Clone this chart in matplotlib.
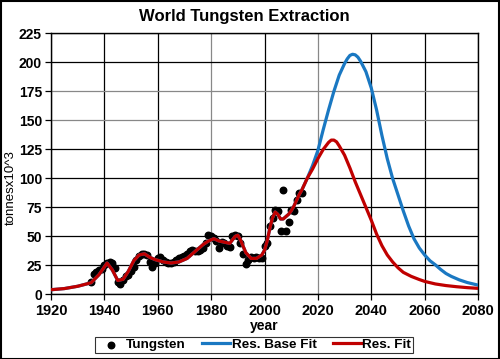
import matplotlib
matplotlib.use("Agg")
import matplotlib.pyplot as plt

plt.rcParams['font.family'] = ['Liberation Sans', 'DejaVu Sans']

# observed tungsten extraction (tonnes x10^3)
obs_year = [1935, 1936, 1937, 1938, 1939, 1940, 1941, 1942, 1943, 1944,
            1945, 1946, 1947, 1948, 1949, 1950, 1951, 1952, 1953, 1954,
            1955, 1956, 1957, 1958, 1959, 1960, 1961, 1962, 1963, 1964,
            1965, 1966, 1967, 1968, 1969, 1970, 1971, 1972, 1973, 1974,
            1975, 1976, 1977, 1978, 1979, 1980, 1981, 1982, 1983, 1984,
            1985, 1986, 1987, 1988, 1989, 1990, 1991, 1992, 1993, 1994,
            1995, 1996, 1997, 1998, 1999, 2000, 2001, 2002, 2003, 2004,
            2005, 2006, 2007, 2008, 2009, 2010, 2011, 2012, 2013, 2014]
obs_val = [11, 18, 19, 21, 22, 25, 27, 28, 27, 23,
           11, 9, 12, 16, 17, 20, 24, 30, 33, 35,
           35, 34, 28, 24, 27, 31, 32, 30, 28, 27,
           27, 28, 30, 31, 32, 33, 35, 37, 38, 37,
           37, 38, 40, 44, 51, 50, 49, 46, 40, 45,
           44, 42, 41, 50, 51, 50, 44, 35, 26, 30,
           32, 31, 32, 31, 31, 42, 44, 59, 66, 73,
           72, 55, 90, 55, 62, 73, 72, 81, 87, 87]

# fitted curves: common historical part
hist_year = [1920, 1925, 1930, 1935, 1938, 1941, 1943, 1945, 1947, 1949,
             1951, 1953, 1955, 1957, 1959, 1962, 1965, 1968, 1971, 1974,
             1977, 1979, 1981, 1983, 1985, 1987, 1989, 1990, 1991, 1993,
             1995, 1997, 1999, 2000, 2001, 2002, 2003, 2004, 2005, 2006,
             2007, 2008, 2009, 2010, 2011, 2012, 2013, 2014, 2015, 2016]
hist_val = [4, 5, 7, 10, 17, 27, 21, 12, 13, 20,
            29, 34, 35, 32, 30, 28, 27, 28, 31, 37,
            43, 46, 48, 46, 45, 44, 50, 51, 47, 36,
            31, 31, 34, 38, 46, 57, 66, 71, 69, 65,
            65, 67, 69, 72, 76, 81, 86, 90, 95, 100]

# Res. Base Fit projection
base_year = [2018, 2020, 2022, 2024, 2026, 2028, 2030, 2031, 2032, 2033,
             2034, 2035, 2036, 2038, 2040, 2042, 2044, 2046, 2048, 2050,
             2052, 2054, 2056, 2058, 2060, 2062, 2064, 2066, 2068, 2070,
             2073, 2076, 2080]
base_val = [111, 124, 142, 159, 175, 189, 199, 203, 206, 207,
            206.5, 204.5, 201, 192, 178, 159, 137, 117, 100, 86,
            72, 59, 48, 40, 34, 29, 25.5, 21.5, 18, 15.5,
            12.5, 10.2, 8]

# Res. Fit projection
res_year = [2018, 2020, 2022, 2024, 2025, 2026, 2027, 2028, 2030, 2032,
            2034, 2036, 2038, 2040, 2042, 2044, 2046, 2048, 2050, 2052,
            2055, 2058, 2060, 2064, 2068, 2072, 2076, 2080]
res_val = [108, 117, 125, 131, 133, 133, 131.5, 128, 120, 109,
           97, 86, 75, 64, 52, 42, 34, 28, 23, 19,
           15.5, 12.8, 11.2, 9, 7.6, 6.6, 5.8, 5.2]

blue = '#1a78c2'
red = '#c00000'

fig = plt.figure(figsize=(5, 3.59), dpi=100)
ax = fig.add_axes([0.102, 0.180, 0.854, 0.727])

ax.plot(hist_year + base_year, hist_val + base_val, color=blue, lw=2.3,
        label='Res. Base Fit', zorder=3, solid_joinstyle='round')
ax.plot(hist_year + res_year, hist_val + res_val, color=red, lw=2.3,
        label='Res. Fit', zorder=4, solid_joinstyle='round')
ax.scatter(obs_year, obs_val, s=22, color='black', label='Tungsten', zorder=2)

ax.set_xlim(1920, 2080)
ax.set_ylim(0, 225)
ax.set_xticks(range(1920, 2081, 20))
ax.set_yticks(range(0, 226, 25))
for x in range(1920, 2081, 20):
    ax.axvline(x, color='#888888' if x in (1980, 2020) else 'black', lw=0.9, zorder=1)
for y in range(0, 226, 25):
    ax.axhline(y, color='#888888' if y in (150, 175) else 'black', lw=0.9, zorder=1)
for s in ax.spines.values():
    s.set_linewidth(1.0)
ax.tick_params(axis='y', length=4, width=0.9, labelsize=10, pad=2.5)
ax.tick_params(axis='x', length=4, width=0.9, labelsize=10.5, pad=3)
for lab in ax.get_xticklabels() + ax.get_yticklabels():
    lab.set_fontweight('bold')

fig.text(0.488, 0.953, 'World Tungsten Extraction', fontsize=12, fontweight='bold',
         ha='center', va='center')
ax.set_xlabel('year', fontsize=10, fontweight='bold', labelpad=1)
ax.set_ylabel('tonnesx10^3', fontsize=9.5)
ax.yaxis.set_label_coords(-0.08, 0.41)

handles, labels = ax.get_legend_handles_labels()
order = [2, 0, 1]
leg = fig.legend([handles[i] for i in order], [labels[i] for i in order],
                 loc='center', bbox_to_anchor=(0.508, 0.039), ncol=3,
                 frameon=True, fancybox=False, edgecolor='black',
                 prop={'weight': 'bold', 'size': 9.7}, handlelength=2.1,
                 handletextpad=0.1, columnspacing=1.2, borderpad=0.15)
leg.get_frame().set_linewidth(0.8)

fig.patches.append(plt.Rectangle((0.001, 0.001), 0.997, 0.997, transform=fig.transFigure,
                                 fill=False, edgecolor='black', lw=1.5))

fig.savefig('out.png', dpi=100)
